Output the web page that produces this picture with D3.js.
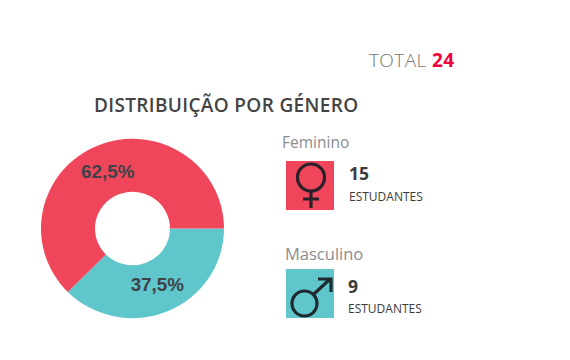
<!DOCTYPE html>
<html lang="pt">
<head>
<meta charset="UTF-8">
<title>Distribuição por género</title>
<script src="https://cdn.jsdelivr.net/npm/d3@7"></script>
<style>
    body { margin: 0; background: #fff; }
    svg { display: block; }
    text { font-family: "Open Sans", sans-serif; }
</style>
</head>
<body>
<script>
var categories = ["Masculino", "Feminino"];
var students = [9, 15];
var percentLabels = ["37,5%", "62,5%"];
var colors = ["#5fc7cb", "#f0465b"];
var total = 24;

var width = 570, height = 360;

var svg = d3.select("body").append("svg")
    .attr("width", width)
    .attr("height", height);

// header
var totalText = svg.append("text")
    .attr("x", 369).attr("y", 67)
    .attr("font-size", 19)
    .attr("font-weight", 300)
    .attr("letter-spacing", 0.4)
    .attr("fill", "#777")
    .text("TOTAL ");
totalText.append("tspan")
    .attr("fill", "#f0003c")
    .attr("font-weight", 700)
    .text(total);

svg.append("text")
    .attr("x", 94).attr("y", 112)
    .attr("font-size", 19)
    .attr("font-weight", 600)
    .attr("letter-spacing", 0.35)
    .attr("fill", "#444")
    .text("DISTRIBUIÇÃO POR GÉNERO");

// donut, starts at 3 o'clock and goes clockwise
var pie = d3.pie().sort(null)
    .startAngle(Math.PI / 2)
    .endAngle(Math.PI / 2 + 2 * Math.PI);
var arc = d3.arc().innerRadius(37.5).outerRadius(91.5);
var labelArc = d3.arc().innerRadius(70).outerRadius(70);

var donut = svg.append("g").attr("transform", "translate(132.5,228.5)");
var slices = pie(students);

// the original donut is a little squashed vertically
donut.selectAll("path")
    .data(slices)
    .join("path")
    .attr("d", arc)
    .attr("transform", "scale(1,0.98)")
    .attr("fill", function (d, i) { return colors[i]; });

var labelOffset = [[-2, -8.5], [2, 7.5]];
donut.selectAll("text")
    .data(slices)
    .join("text")
    .attr("transform", function (d, i) {
        var c = labelArc.centroid(d);
        return "translate(" + (c[0] + labelOffset[i][0]) + "," + (c[1] + labelOffset[i][1]) + ")";
    })
    .attr("text-anchor", "middle")
    .attr("dy", "0.35em")
    .style("font-family", "'Liberation Sans', Arial, sans-serif")
    .attr("font-size", 18.8)
    .attr("font-weight", 700)
    .attr("fill", "#3f4347")
    .text(function (d, i) { return percentLabels[i]; });

// legend blocks
function legend(i, labelX, labelY, labelSize, boxY, textX, numY, capY) {
    var g = svg.append("g");
    g.append("text")
        .attr("x", labelX).attr("y", labelY)
        .attr("font-size", labelSize)
        .attr("fill", "#8c8c8c")
        .text(categories[i]);
    g.append("rect")
        .attr("x", 286).attr("y", boxY)
        .attr("width", 48).attr("height", 49)
        .attr("fill", colors[i]);
    g.append("text")
        .attr("x", textX).attr("y", numY)
        .attr("font-size", 17.5)
        .attr("font-weight", 700)
        .attr("fill", "#3c3c3c")
        .text(students[i]);
    g.append("text")
        .attr("x", textX).attr("y", capY)
        .attr("font-size", 12)
        .attr("fill", "#3c3c3c")
        .text("ESTUDANTES");
}
legend(1, 282, 148, 15.5, 161, 349, 180, 201);
legend(0, 285, 260, 16.5, 269, 348, 293, 313);

// gender icons
var iconColor = "#1f2a30";
var female = svg.append("g")
    .attr("fill", "none").attr("stroke", "#2a2028").attr("stroke-width", 3.2);
female.append("circle").attr("cx", 311).attr("cy", 177.5).attr("r", 13.5);
female.append("path").attr("d", "M311,191V208M303,199H319");

var male = svg.append("g")
    .attr("fill", "none").attr("stroke", iconColor).attr("stroke-width", 3.2);
male.append("circle").attr("cx", 304.5).attr("cy", 303.5).attr("r", 12.5);
male.append("path").attr("d", "M313.5,294.5L330,279M318,279H331V292");
</script>
</body>
</html>
